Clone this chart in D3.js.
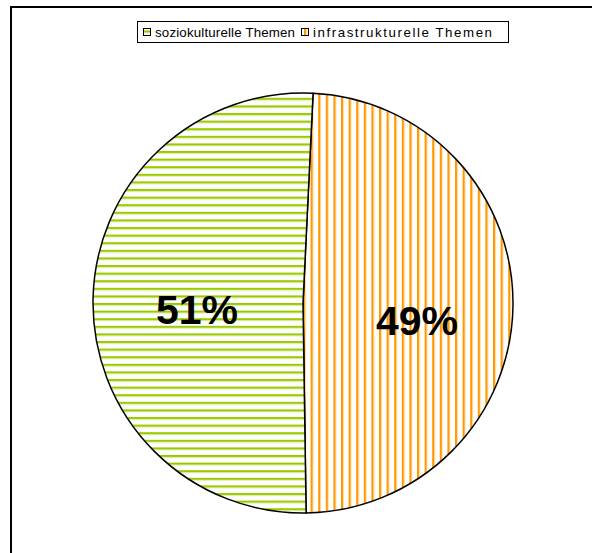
<!DOCTYPE html>
<html><head><meta charset="utf-8">
<script src="https://cdn.jsdelivr.net/npm/d3@7"></script>
<style>body{margin:0;background:#fff;}svg{display:block;}</style>
</head><body>
<svg id="c" width="592" height="553"></svg>
<script>
const categories = ["soziokulturelle Themen", "infrastrukturelle Themen"];
const values = [51, 49];
const labels = ["51%", "49%"];
const colors = ["#99CC00", "#FF9900"];

const svg = d3.select("#c");
const defs = svg.append("defs");
const pg = defs.append("pattern").attr("id","pg").attr("patternUnits","userSpaceOnUse")
  .attr("width",10).attr("height",7.6);
pg.append("rect").attr("width",10).attr("height",7.6).attr("fill","#fff");
pg.append("rect").attr("y",0).attr("width",10).attr("height",2).attr("fill",colors[0]);
pg.append("rect").attr("y",2).attr("width",10).attr("height",1).attr("fill","#d8ec9a");
const po = defs.append("pattern").attr("id","po").attr("patternUnits","userSpaceOnUse")
  .attr("width",7.6).attr("height",10);
po.append("rect").attr("width",7.6).attr("height",10).attr("fill","#fff");
po.append("rect").attr("x",0).attr("width",2).attr("height",10).attr("fill",colors[1]);
po.append("rect").attr("x",2).attr("width",1).attr("height",10).attr("fill","#ffd699");
const fills = ["url(#pg)","url(#po)"];

svg.append("rect").attr("x",11).attr("y",7).attr("width",700).attr("height",700)
  .attr("fill","none").attr("stroke","#000").attr("stroke-width",2);

const cx = 303, cy = 303, r = 210;
const data = categories.map((c,i)=>({c, v:values[i], label:labels[i], i}));
const startAngle = 0.048;
const pie = d3.pie().value(d=>d.v).sort(null)
  .startAngle(startAngle).endAngle(startAngle + 2*Math.PI);
const arcs = pie([data[1], data[0]]);
const arc = d3.arc().innerRadius(0).outerRadius(r);
const g = svg.append("g").attr("transform",`translate(${cx},${cy})`);
g.selectAll("path").data(arcs).join("path")
  .attr("d",arc).attr("fill",d=>fills[d.data.i])
  .attr("stroke","#000").attr("stroke-width",1.5).attr("stroke-linejoin","round");

const labelArc = d3.arc().innerRadius(r*0.5).outerRadius(r*0.5);
g.selectAll("text").data(arcs).join("text")
  .attr("transform",d=>{const p=labelArc.centroid(d); return `translate(${p[0]+(d.data.i===0?-1:9)},${p[1]+(d.data.i===0?12:19)})`;})
  .attr("text-anchor","middle").attr("dominant-baseline","middle")
  .attr("font-family","Liberation Sans, Arial, sans-serif").attr("font-weight","bold")
  .attr("font-size",41).attr("fill","#000").text(d=>d.data.label);

const lg = svg.append("g");
lg.append("rect").attr("x",137.5).attr("y",21.5).attr("width",371).attr("height",21)
  .attr("fill","#fff").attr("stroke","#000").attr("stroke-width",1);
const legX = [143, 301];
const legLen = [140, 179];
data.forEach((d,i)=>{
  lg.append("rect").attr("x",legX[i]+0.5).attr("y",28.5).attr("width",7).attr("height",7)
    .attr("fill",fills[i]).attr("stroke","#000").attr("stroke-width",1);
  lg.append("text").attr("x",legX[i]+12).attr("y",37)
    .attr("font-family","Liberation Sans, Arial, sans-serif").attr("font-size",13.3)
    .attr("textLength",legLen[i]).attr("lengthAdjust","spacing")
    .attr("fill","#000").text(d.c);
});
</script>
</body></html>
